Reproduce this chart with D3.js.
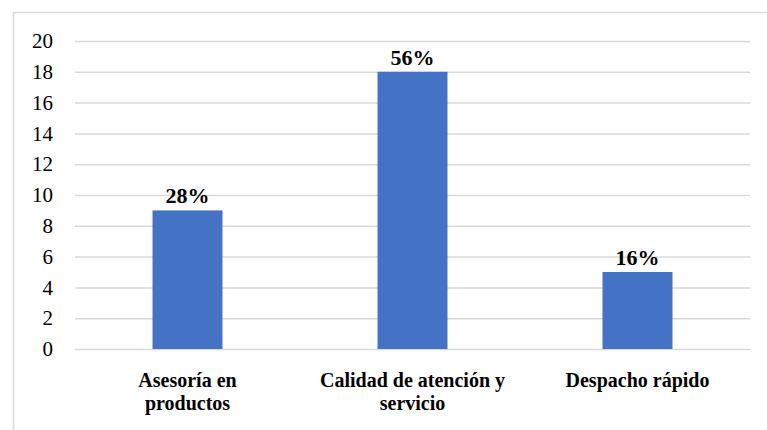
<!DOCTYPE html>
<html><head><meta charset="utf-8">
<script src="https://cdn.jsdelivr.net/npm/d3@7"></script>
<style>body{margin:0;background:#fff}svg{display:block}</style>
</head><body>
<svg id="c" width="767" height="430" font-family="Times New Roman, serif"></svg>
<script>
const categories = [["Asesoría en","productos"],["Calidad de atención y","servicio"],["Despacho rápido"]];
const values = [9, 18, 5];
const labels = ["28%","56%","16%"];
const yTicks = [0,2,4,6,8,10,12,14,16,18,20];

(function(){
const svg = d3.select("#c");
const FF = "Times New Roman, serif";
const mL = 75, mR = 750, mT = 41, mB = 349;

svg.append("rect").attr("x",13.5).attr("y",12.5).attr("width",900).attr("height",600)
  .attr("fill","#fff").attr("stroke","#d9d9d9").attr("stroke-width",1.5);

const x = d3.scaleBand().domain(d3.range(values.length)).range([mL,mR]).paddingInner(0.689).paddingOuter(0.3445);
const y = d3.scaleLinear().domain([0,20]).range([mB,mT]);

const g = svg.append("g");
g.selectAll("line.grid").data(yTicks).join("line").attr("class","grid")
  .attr("x1",mL).attr("x2",mR).attr("y1",d=>y(d)+0.5).attr("y2",d=>y(d)+0.5)
  .attr("stroke","#d9d9d9").attr("stroke-width",1.5);

const yAxis = svg.append("g").attr("transform",`translate(${mL},0)`)
  .call(d3.axisLeft(y).tickValues(yTicks).tickSize(0).tickPadding(22));
yAxis.attr("font-family",FF).attr("font-size",21);
yAxis.select(".domain").remove();
yAxis.selectAll("text").attr("font-family",FF).attr("font-size",21).attr("fill","#000");

g.selectAll("rect.bar").data(values).join("rect").attr("class","bar")
  .attr("x",(d,i)=>x(i)).attr("width",x.bandwidth())
  .attr("y",d=>y(d)).attr("height",d=>y(0)-y(d)).attr("fill","#4472C4");

g.selectAll("text.lbl").data(values).join("text").attr("class","lbl")
  .attr("x",(d,i)=>x(i)+x.bandwidth()/2).attr("y",d=>y(d)-7)
  .attr("text-anchor","middle").attr("font-family",FF)
  .attr("font-weight","bold").attr("font-size",22).text((d,i)=>labels[i]);

categories.forEach((lines,i)=>{
  const t = svg.append("text").attr("text-anchor","middle").attr("font-family",FF)
    .attr("font-weight","bold").attr("font-size",20);
  lines.forEach((l,j)=>{
    t.append("tspan").attr("x",x(i)+x.bandwidth()/2).attr("y",387+j*23).text(l);
  });
});
})();
</script>
</body></html>
